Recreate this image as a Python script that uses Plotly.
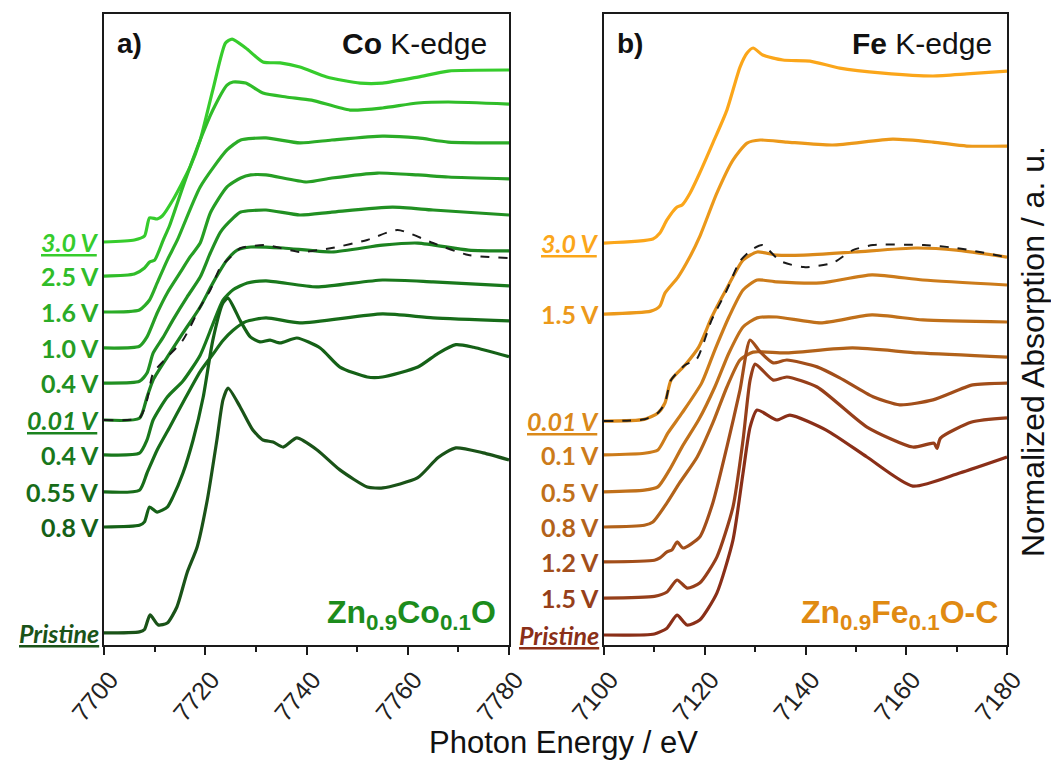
import plotly.graph_objects as go

# ---------------- Panel a: Co K-edge (Zn0.9Co0.1O) ----------------
co_labels = ["3.0 V", "2.5 V", "1.6 V", "1.0 V", "0.4 V", "0.01 V", "0.4 V", "0.55 V", "0.8 V", "Pristine"]
co_offsets = [2.343, 2.145, 1.936, 1.727, 1.523, 1.308, 1.105, 0.890, 0.686, 0.070]
co_colors = ["#36CC2C", "#30BD29", "#2BAC27", "#269E24", "#219022", "#1C8320",
             "#19781C", "#176C19", "#156117", "#1A5318"]

co_E_30 = [7700, 7706, 7708, 7709, 7710.5, 7711.5, 7713.6, 7717, 7719, 7721.5, 7724, 7725.3, 7728, 7731.4,
           7734.8, 7738.7, 7744, 7750.6, 7755, 7762, 7768, 7780]
co_mu_30 = [0, 0.012, 0.035, 0.14, 0.134, 0.151, 0.244, 0.436, 0.593, 0.884, 1.157, 1.18, 1.128, 1.047,
            1.041, 1.017, 0.959, 0.924, 0.924, 0.959, 0.994, 1.0]

co_E_25 = [7700, 7706, 7708, 7709, 7710, 7711.7, 7713, 7715.6, 7719, 7721.5, 7724.3, 7725.5, 7728, 7731.4,
           7736, 7741, 7748.6, 7755, 7762, 7768, 7780]
co_mu_25 = [0, 0.012, 0.047, 0.081, 0.093, 0.209, 0.297, 0.52, 0.791, 0.965, 1.110, 1.128, 1.122, 1.064,
            1.041, 1.023, 0.965, 0.977, 1.006, 1.012, 1.0]

co_E_16 = [7700, 7707, 7709, 7710.5, 7712.5, 7714.5, 7719, 7724.3, 7727, 7732, 7738.7, 7745, 7755, 7762, 7768, 7780]
co_mu_16 = [0, 0.012, 0.07, 0.169, 0.302, 0.419, 0.727, 0.942, 1.0, 1.012, 0.983, 1.0, 1.023, 1.012, 0.988, 0.983]

co_E_10 = [7700, 7707, 7708.5, 7710.5, 7712.5, 7715, 7717, 7719, 7721, 7724.3, 7727, 7729, 7732, 7740, 7745,
           7754, 7762, 7768, 7780]
co_mu_10 = [0, 0.01, 0.064, 0.203, 0.32, 0.436, 0.529, 0.61, 0.785, 0.936, 0.988, 1.006, 1.006, 0.965, 0.988,
            1.017, 1.006, 0.994, 0.983]

co_E_04a = [7700, 7707, 7708.5, 7709.7, 7711.7, 7713.6, 7716.4, 7719, 7721, 7723, 7725.5, 7727, 7732, 7738.7,
            7745, 7757, 7765, 7780]
co_mu_04a = [0, 0.01, 0.058, 0.174, 0.267, 0.366, 0.5, 0.616, 0.756, 0.878, 0.959, 0.994, 1.006, 0.977,
             0.994, 1.023, 1.006, 0.977]

co_E_001 = [7700, 7707, 7708.5, 7709.7, 7712.5, 7715.6, 7719, 7721.5, 7724.3, 7726.3, 7729, 7735.4, 7745,
            7755, 7762, 7772, 7780]
co_mu_001 = [0, 0.01, 0.134, 0.233, 0.366, 0.506, 0.657, 0.796, 0.930, 0.988, 1.006, 1.0, 0.977,
             1.017, 1.029, 0.988, 0.983]

co_E_04b = [7700, 7707, 7708.5, 7709.7, 7712.5, 7715.6, 7719, 7721.5, 7723.5, 7725.5, 7728.3, 7732, 7742,
            7755, 7765, 7780]
co_mu_04b = [0, 0.01, 0.087, 0.203, 0.337, 0.43, 0.58, 0.76, 0.90, 0.96, 1.0, 1.012, 0.977,
             1.017, 1.006, 0.983]

co_E_055 = [7700, 7707, 7708.5, 7710.5, 7713, 7715.6, 7719, 7721.5, 7723.5, 7725.5, 7728, 7732, 7738.7,
            7755, 7765, 7780]
co_mu_055 = [0, 0.01, 0.11, 0.244, 0.378, 0.52, 0.70, 0.80, 0.88, 0.94, 0.99, 1.012, 0.983,
             1.035, 1.012, 0.994]

co_E_08 = [7700, 7707, 7708, 7709, 7710.5, 7712.5, 7713.6, 7715.6, 7717.6, 7719.6, 7721.5, 7723.5, 7724.5,
           7726.9, 7728.9, 7730.8, 7732.8, 7734.8, 7738.1, 7742.7, 7746.6, 7752, 7755, 7762, 7766, 7769.5,
           7773, 7780]
co_mu_08 = [0, 0.01, 0.03, 0.116, 0.087, 0.116, 0.174, 0.314, 0.506, 0.756, 1.087, 1.302, 1.331,
            1.2, 1.105, 1.076, 1.087, 1.07, 1.099, 1.041, 0.930, 0.872, 0.872, 0.930, 1.01, 1.06, 1.045, 0.99]

co_E_pr = [7700, 7707, 7708, 7709.1, 7710.7, 7712.5, 7714.4, 7716.4, 7718.4, 7720.4, 7722.3, 7723.5, 7724.5,
           7726.9, 7729.4, 7731.4, 7733.4, 7735.4, 7738.1, 7742.1, 7746.6, 7752, 7755.1, 7761.9, 7766,
           7769.5, 7774.9, 7780]
co_mu_pr = [0, 0.006, 0.02, 0.105, 0.047, 0.058, 0.151, 0.349, 0.5, 0.773, 1.122, 1.355, 1.424,
            1.314, 1.180, 1.122, 1.110, 1.081, 1.134, 1.064, 0.948, 0.849, 0.843, 0.901, 1.02,
            1.076, 1.047, 1.006]

co_E_ref = [7700, 7707, 7708.5, 7709.7, 7712.5, 7715.6, 7719, 7721, 7723, 7725, 7727, 7732, 7738.7, 7745,
            7752, 7758, 7765, 7772, 7780]
co_mu_ref = [0, 0.012, 0.116, 0.273, 0.366, 0.465, 0.657, 0.756, 0.89, 0.948, 1.0, 1.017, 0.977, 1.0,
             1.047, 1.105, 1.029, 0.959, 0.942]
co_ref_offset = 1.308

co_E = [co_E_30, co_E_25, co_E_16, co_E_10, co_E_04a, co_E_001, co_E_04b, co_E_055, co_E_08, co_E_pr]
co_mu = [co_mu_30, co_mu_25, co_mu_16, co_mu_10, co_mu_04a, co_mu_001, co_mu_04b, co_mu_055, co_mu_08, co_mu_pr]
co_styled = [True, False, False, False, False, True, False, False, False, True]

# ---------------- Panel b: Fe K-edge (Zn0.9Fe0.1O-C) ----------------
fe_labels = ["3.0 V", "1.5 V", "0.01 V", "0.1 V", "0.5 V", "0.8 V", "1.2 V", "1.5 V", "Pristine"]
fe_offsets = [2.337, 1.924, 1.302, 1.105, 0.890, 0.686, 0.483, 0.273, 0.058]
fe_colors = ["#FBA61A", "#EC991A", "#DA891A", "#CC7B1A", "#C0701A", "#B2621A", "#A24E1A", "#963F1A", "#8A2F18"]

fe_E_30 = [7100, 7109.7, 7111.1, 7112.5, 7114.5, 7115.5, 7117.1, 7119, 7121.6, 7124.4, 7127, 7128.4, 7129.6,
           7131.5, 7135.5, 7140.9, 7146.8, 7155.4, 7165.3, 7172, 7180]
fe_mu_30 = [0, 0.023, 0.058, 0.134, 0.209, 0.221, 0.291, 0.407, 0.581, 0.773, 1.023, 1.105, 1.134,
            1.093, 1.064, 1.058, 1.017, 0.988, 0.971, 0.983, 1.0]

fe_E_15a = [7100, 7109.3, 7111.1, 7112.1, 7114.7, 7117, 7119, 7122.4, 7125.6, 7128.4, 7131, 7136.3, 7145.4,
            7157.3, 7165.3, 7172, 7180]
fe_mu_15a = [0, 0.017, 0.047, 0.122, 0.215, 0.33, 0.45, 0.703, 0.895, 0.994, 1.012, 1.0, 0.983,
             1.017, 1.0, 0.977, 0.977]

fe_E_001 = [7100, 7108, 7110.7, 7112.1, 7113.3, 7116.1, 7118.8, 7121.4, 7124.2, 7127.6, 7130.4, 7134.3,
            7139.7, 7149.8, 7161.9, 7170, 7180]
fe_mu_001 = [0, 0.01, 0.047, 0.105, 0.238, 0.326, 0.43, 0.605, 0.762, 0.936, 0.983, 0.965,
             0.965, 0.983, 1.006, 0.994, 0.953]

fe_E_01 = [7100, 7108, 7110.7, 7112.7, 7115.5, 7119.4, 7122, 7124.8, 7127.6, 7130.4, 7134.3, 7143, 7153.2,
           7163.3, 7180]
fe_mu_01 = [0, 0.01, 0.029, 0.128, 0.244, 0.419, 0.61, 0.802, 0.959, 1.017, 1.006, 1.0, 1.047,
            1.017, 0.988]

fe_E_05 = [7100, 7108, 7110.7, 7113, 7115.5, 7118.8, 7122, 7124.8, 7127.6, 7130.4, 7134.3, 7143, 7153.2,
           7163.3, 7180]
fe_mu_05 = [0, 0.01, 0.029, 0.128, 0.262, 0.419, 0.61, 0.808, 0.959, 1.012, 1.017, 0.983, 1.029,
            1.0, 0.988]

fe_E_08 = [7100, 7108, 7109.7, 7112.5, 7115, 7118.5, 7121.6, 7124.4, 7127, 7129.6, 7136, 7149.3, 7162.5, 7180]
fe_mu_08 = [0, 0.01, 0.029, 0.14, 0.256, 0.407, 0.605, 0.814, 0.971, 1.017, 1.012, 1.041, 1.012, 0.988]

fe_E_12 = [7100, 7110, 7111.1, 7112.5, 7113.5, 7114.5, 7115.7, 7119, 7121.6, 7124.4, 7127, 7129, 7131,
           7133.6, 7136.3, 7142.3, 7146.8, 7153.4, 7158.7, 7165.3, 7173.2, 7180]
fe_mu_12 = [0, 0.01, 0.023, 0.058, 0.07, 0.116, 0.081, 0.145, 0.343, 0.669, 1.0, 1.29, 1.221,
            1.157, 1.174, 1.134, 1.07, 0.96, 0.913, 0.942, 1.029, 1.04]

fe_E_15b = [7100, 7110, 7112.5, 7114.5, 7116.5, 7119, 7122.4, 7125.6, 7127.6, 7129, 7130, 7133.6, 7136.3,
            7142.3, 7152.2, 7161.3, 7165.5, 7166.1, 7166.8, 7173, 7180]
fe_mu_15b = [0, 0.01, 0.035, 0.105, 0.058, 0.087, 0.238, 0.529, 0.919, 1.267, 1.36, 1.267, 1.285,
             1.227, 0.994, 0.878, 0.90, 0.87, 0.93, 1.023, 1.047]

fe_E_pr = [7100, 7110, 7112.5, 7114.5, 7116.5, 7119, 7122.4, 7125.6, 7127.6, 7129, 7130.4, 7134.3, 7136.9,
           7144.2, 7152.2, 7161.3, 7170.6, 7180]
fe_mu_pr = [0, 0.006, 0.04, 0.116, 0.058, 0.087, 0.244, 0.552, 0.942, 1.209, 1.308, 1.25, 1.279,
            1.19, 1.035, 0.866, 0.942, 1.035]

fe_E_ref = [7100, 7108, 7110.7, 7112.1, 7113.3, 7116.1, 7118.4, 7121.4, 7124.2, 7127, 7129.5, 7131.5, 7135,
            7139.7, 7145.4, 7149.4, 7153.4, 7163.5, 7170, 7180]
fe_mu_ref = [0, 0.01, 0.047, 0.105, 0.238, 0.326, 0.36, 0.59, 0.75, 0.93, 1.0, 1.023, 0.93,
             0.895, 0.919, 0.994, 1.023, 1.023, 1.006, 0.953]
fe_ref_offset = 1.302

fe_E = [fe_E_30, fe_E_15a, fe_E_001, fe_E_01, fe_E_05, fe_E_08, fe_E_12, fe_E_15b, fe_E_pr]
fe_mu = [fe_mu_30, fe_mu_15a, fe_mu_001, fe_mu_01, fe_mu_05, fe_mu_08, fe_mu_12, fe_mu_15b, fe_mu_pr]
fe_styled = [True, False, True, False, False, False, False, False, True]

co_ticks = [7700, 7720, 7740, 7760, 7780]
fe_ticks = [7100, 7120, 7140, 7160, 7180]

# ---------------- figure ----------------
W, H = 1051, 761
TOP, BOTTOM = 14, 645
YMAX = (BOTTOM - TOP) / 172.0

fig = go.Figure()


def add_panel(Es, mus, offs, cols, xa, ya, refE, refmu, refoff):
    for E, mu, off, c in zip(Es, mus, offs, cols):
        fig.add_trace(go.Scatter(x=E, y=[m + off for m in mu], mode="lines", xaxis=xa, yaxis=ya,
                                 line=dict(color=c, width=3.2, shape="spline", smoothing=0.6),
                                 showlegend=False, hoverinfo="skip"))
    fig.add_trace(go.Scatter(x=refE, y=[m + refoff for m in refmu], mode="lines", xaxis=xa, yaxis=ya,
                             line=dict(color="#1a1a1a", width=2, dash="dash", shape="spline", smoothing=0.6),
                             showlegend=False, hoverinfo="skip"))


add_panel(co_E, co_mu, co_offsets, co_colors, "x", "y", co_E_ref, co_mu_ref, co_ref_offset)
add_panel(fe_E, fe_mu, fe_offsets, fe_colors, "x2", "y2", fe_E_ref, fe_mu_ref, fe_ref_offset)

axis_common = dict(showline=True, linecolor="#1a1a1a", linewidth=2, mirror=True, showgrid=False,
                   zeroline=False, automargin=False)
xcommon = dict(axis_common, ticks="outside", ticklen=8, tickwidth=2, tickcolor="#1a1a1a",
               tickangle=-50, ticklabelshift=6,
               tickfont=dict(family="Liberation Sans, Arial", size=25, color="#222"),
               minor=dict(ticks="outside", ticklen=5, tickwidth=2, tickcolor="#1a1a1a", dtick=10))
ycommon = dict(axis_common, showticklabels=False, ticks="", range=[0, YMAX], fixedrange=True)

fig.update_layout(
    width=W, height=H,
    margin=dict(l=0, r=0, t=TOP, b=H - BOTTOM, autoexpand=False),
    paper_bgcolor="white", plot_bgcolor="white",
    xaxis=dict(xcommon, domain=[104 / W, 509 / W], range=[co_ticks[0], co_ticks[-1]],
               tickvals=co_ticks, anchor="y"),
    yaxis=dict(ycommon, anchor="x"),
    xaxis2=dict(xcommon, domain=[604 / W, 1007 / W], range=[fe_ticks[0], fe_ticks[-1]],
                tickvals=fe_ticks, anchor="y2"),
    yaxis2=dict(ycommon, anchor="x2"),
)


def py(ypx):
    return (BOTTOM - ypx) / (BOTTOM - TOP)


ann = []
lab_font = "Lato, Open Sans, sans-serif"
for lab, off, c, st in zip(co_labels, co_offsets, co_colors, co_styled):
    t = f"<u><i>{lab}</i></u>" if st else lab
    ann.append(dict(text=f"<b>{t}</b>", x=101 / W, xref="paper", y=off, yref="y", xanchor="right",
                    yanchor="middle", showarrow=False, font=dict(family=lab_font, size=25, color=c)))
for lab, off, c, st in zip(fe_labels, fe_offsets, fe_colors, fe_styled):
    t = f"<u><i>{lab}</i></u>" if st else lab
    ann.append(dict(text=f"<b>{t}</b>", x=601 / W, xref="paper", y=off, yref="y2", xanchor="right",
                    yanchor="middle", showarrow=False, font=dict(family=lab_font, size=25, color=c)))

af = "Liberation Sans, Arial"
ann += [
    dict(text="<b>a)</b>", x=115 / W, y=py(44), xref="paper", yref="paper", xanchor="left", yanchor="middle",
         showarrow=False, font=dict(family=af, size=28, color="#111")),
    dict(text="<b>Co</b> K-edge", x=489 / W, y=py(44), xref="paper", yref="paper", xanchor="right",
         yanchor="middle", showarrow=False, font=dict(family=af, size=30, color="#111")),
    dict(text="<b>b)</b>", x=615 / W, y=py(44), xref="paper", yref="paper", xanchor="left", yanchor="middle",
         showarrow=False, font=dict(family=af, size=28, color="#111")),
    dict(text="<b>Fe</b> K-edge", x=994 / W, y=py(44), xref="paper", yref="paper", xanchor="right",
         yanchor="middle", showarrow=False, font=dict(family=af, size=30, color="#111")),
    dict(text="<b>Zn<sub>0.9</sub>Co<sub>0.1</sub>O</b>", x=498 / W, y=py(614), xref="paper", yref="paper",
         xanchor="right", yanchor="middle", showarrow=False, font=dict(family=af, size=32, color="#1C8C1C")),
    dict(text="<b>Zn<sub>0.9</sub>Fe<sub>0.1</sub>O-C</b>", x=1000 / W, y=py(614), xref="paper", yref="paper",
         xanchor="right", yanchor="middle", showarrow=False, font=dict(family=af, size=32, color="#E08A12")),
    dict(text="Photon Energy / eV", x=563 / W, y=py(742), xref="paper", yref="paper", xanchor="center",
         yanchor="middle", showarrow=False, font=dict(family=af, size=31, color="#111")),
    dict(text="Normalized Absorption / a. u.", x=1033 / W, y=py(352), xref="paper", yref="paper",
         xanchor="center", yanchor="middle", textangle=-90, showarrow=False,
         font=dict(family=af, size=32, color="#111")),
]
fig.update_layout(annotations=ann)

fig.write_html("out.html", config={"displayModeBar": False})
